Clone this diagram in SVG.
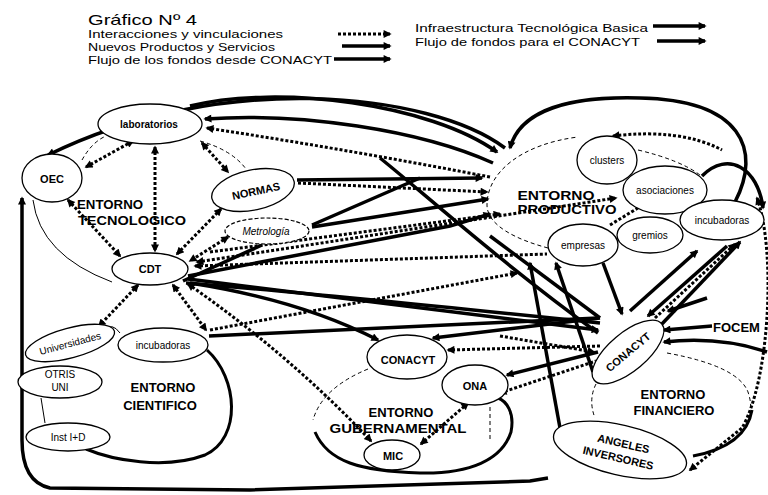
<svg xmlns="http://www.w3.org/2000/svg" width="768" height="495" viewBox="0 0 768 495">
<defs>
<marker id="ah" viewBox="0 0 10 10" refX="8" refY="5" markerWidth="10" markerHeight="8" markerUnits="userSpaceOnUse" orient="auto-start-reverse"><path d="M0,0 L10,5 L0,10 z" fill="#000"/></marker>
<style>
text{font-family:"Liberation Sans",Arial,sans-serif;fill:#000}
.lg{font-size:11px}
.lb{font-size:11px;font-weight:bold;text-anchor:middle}
.ls{font-size:10px;text-anchor:middle}
.en{font-size:13px;font-weight:bold;text-anchor:middle}
.d{fill:none;stroke:#000;stroke-width:3;stroke-dasharray:3 2}
.t{fill:none;stroke:#000;stroke-width:3.5}
.b{fill:none;stroke:#000;stroke-width:1}
.bd{fill:none;stroke:#000;stroke-width:1;stroke-dasharray:4 3}
.bt{fill:none;stroke:#000;stroke-width:3}
.n{fill:#fff;stroke:#000;stroke-width:1.3}
.nd{fill:#fff;stroke:#000;stroke-width:1.2;stroke-dasharray:4 2}
.me{marker-end:url(#ah)}
.ms{marker-start:url(#ah)}
</style>
</defs>
<rect width="768" height="495" fill="#fff"/>

<g id="legend">
<text x="88" y="25" font-size="15" textLength="109" lengthAdjust="spacingAndGlyphs">Gráfico Nº 4</text>
<text class="lg" x="88" y="37.5" textLength="195" lengthAdjust="spacingAndGlyphs">Interacciones y vinculaciones</text>
<text class="lg" x="88" y="50.5" textLength="187" lengthAdjust="spacingAndGlyphs">Nuevos Productos y Servicios</text>
<text class="lg" x="88" y="63.5" textLength="244" lengthAdjust="spacingAndGlyphs">Flujo de los fondos desde CONACYT</text>
<text class="lg" x="415" y="32" textLength="233" lengthAdjust="spacingAndGlyphs">Infraestructura Tecnológica Basica</text>
<text class="lg" x="415" y="45.5" textLength="225" lengthAdjust="spacingAndGlyphs">Flujo de fondos para el CONACYT</text>
<path class="d me" d="M338,34 L390,34"/>
<path class="t me" d="M342,46 L390,46"/>
<path class="t me" d="M334,59 L390,59"/>
<path class="t me" d="M653,26 L705,26"/>
<path class="t me" d="M657,41 L705,41"/>
</g>

<g id="boundaries">
<path class="bd" d="M82,160 Q92,142 106,136"/>
<path class="bd" d="M200,141 Q232,150 246,169"/>
<path class="b" d="M33,200 Q40,255 112,282"/>
<path class="b" d="M105,330 Q112,322 120,333"/>
<path class="bt" d="M207,350 C238,378 242,438 205,455 C165,470 112,460 86,449"/>
<path class="b" d="M41,398 L45,423"/>
<path class="bd" d="M368,369 Q322,388 313,420"/>
<path class="bt" d="M315,432 C328,462 360,471 420,473 C470,474 502,460 511,432 C515,412 506,401 498,398"/>
<path class="bd" d="M490,407 L490,442"/>
<path class="bd" d="M596,384 Q588,400 595,418"/>
<path class="bd" d="M667,353 Q738,366 748,392 Q752,404 750,412"/>
<path class="bt" d="M752,410 Q746,446 693,456"/>
<path class="bd" d="M548,248 C518,240 487,226 487,205 C487,172 522,144 578,137"/>
<path class="bd" d="M638,150 Q680,160 700,175"/>
</g>

<g id="connectors">
<path class="d ms me" d="M86,167 L133,141"/>
<path class="d ms me" d="M68,200 L120,256"/>
<path class="d ms me" d="M155,147 L155,251"/>
<path class="d ms me" d="M202,143 L228,172"/>
<path class="d ms me" d="M221,209 L177,254"/>
<path class="d ms me" d="M228,237 L190,261"/>
<path class="d ms me" d="M138,285 L99,326"/>
<path class="d ms me" d="M173,285 L206,330"/>
<path class="d ms me" d="M188,284 Q290,355 371,441"/>
<path class="d ms me" d="M468,403 L421,444"/>
<path class="d ms me" d="M197,262 L616,198"/>
<path class="d ms" d="M195,266 L547,254"/>
<path class="d me" d="M490,177 Q350,150 207,128"/>
<path class="d me" d="M298,183 L487,192"/>
<path class="d me" d="M210,252 L500,214"/>
<path class="d me" d="M210,330 L517,273"/>
<path class="d me" d="M600,346 L448,350"/>
<path class="d ms" d="M500,393 L596,361"/>
<path class="d me" d="M500,336 L594,352"/>
<path class="d ms me" d="M757,198 C776,250 770,380 742,428 L690,470"/>
<path class="d ms" d="M613,136 Q680,128 722,150"/>
<path class="d me" d="M655,318 L735,244"/>
<path class="d me" d="M610,225 L687,178"/>

<path class="t me" d="M505,148 C430,92 220,70 48,155"/>
<path class="t me" d="M190,106 C280,84 430,104 497,152"/>
<path class="t me" d="M493,163 C420,130 300,112 205,119"/>
<path class="t" d="M380,158 C420,190 500,262 598,333"/>
<path class="t me" d="M297,180 L482,178"/>
<path class="t me" d="M312,227 L488,199"/>
<path class="t" d="M312,225 L420,178"/>
<path class="t me" d="M188,276 L450,226 L490,214"/>
<path class="t me" d="M188,279 L598,330"/>
<path class="t" d="M186,283 Q300,292 600,323"/>
<path class="t" d="M183,281 L262,245"/>
<path class="t" d="M209,336 L598,318"/>
<path class="t me" d="M190,283 Q300,300 378,340"/>
<path class="t me" d="M600,318 L433,338"/>
<path class="t me" d="M598,352 L507,375"/>
<path class="t" d="M490,236 L600,318"/>
<path class="t me" d="M560,428 L530,263"/>
<path class="t me" d="M593,372 L556,263"/>
<path class="t me" d="M603,263 L622,314"/>
<path class="t me" d="M660,326 L740,242"/>
<path class="t ms" d="M648,316 L727,246"/>
<path class="t me" d="M630,311 L697,251"/>
<path class="t me" d="M712,326 L664,330"/>
<path class="t me" d="M707,298 L668,311"/>
<path class="t me" d="M767,352 Q720,336 664,342"/>
<path class="t me" d="M735,202 C762,150 742,100 640,98 C570,96 520,110 510,148"/>
<path class="t me" d="M702,176 C728,150 758,168 763,208"/>
<path class="t me" d="M548,478 L530,481 L250,490 L50,488 Q22,482 22,440 L22,198"/>
</g>

<g id="n-oec"><ellipse class="n" cx="52" cy="178" rx="30" ry="24"/><text class="lb" x="52" y="183">OEC</text></g>
<g id="n-laboratorios"><ellipse class="n" cx="150" cy="124" rx="52" ry="20"/><text class="ls" x="149" y="128" font-weight="bold">laboratorios</text></g>
<g id="n-normas"><ellipse class="n" cx="253" cy="190" rx="42" ry="20" transform="rotate(-12 253 190)"/><text class="lb" x="256" y="195" font-size="12" transform="rotate(-12 256 191)">NORMAS</text></g>
<g id="n-metrologia"><ellipse class="nd" cx="267" cy="231" rx="42" ry="13"/><text class="ls" x="266" y="235" font-style="italic">Metrología</text></g>
<g id="n-cdt"><ellipse class="n" cx="150" cy="269" rx="38" ry="16"/><text class="lb" x="150" y="273" font-size="12">CDT</text></g>
<g id="n-universidades"><ellipse class="n" cx="70" cy="343" rx="46" ry="15" transform="rotate(-15 70 343)"/><text class="ls" x="70" y="347" transform="rotate(-15 70 343)">Universidades</text></g>
<g id="n-incubadoras-c"><ellipse class="n" cx="163" cy="345" rx="45" ry="17"/><text class="ls" x="163" y="349">incubadoras</text></g>
<g id="n-otris"><ellipse class="n" cx="60" cy="382" rx="42" ry="16"/><text class="ls" x="60" y="378" font-size="11">OTRIS</text><text class="ls" x="60" y="391">UNI</text></g>
<g id="n-inst"><ellipse class="n" cx="68" cy="437" rx="42" ry="14"/><text class="ls" x="68" y="441">Inst I+D</text></g>
<g id="n-conacyt-g"><ellipse class="n" cx="407" cy="357" rx="40" ry="22"/><text class="lb" x="408" y="364">CONACYT</text></g>
<g id="n-ona"><ellipse class="n" cx="475" cy="385" rx="33" ry="20"/><text class="lb" x="475" y="390">ONA</text></g>
<g id="n-mic"><ellipse class="n" cx="392" cy="455" rx="28" ry="15"/><text class="lb" x="393" y="460">MIC</text></g>
<g id="n-clusters"><ellipse class="n" cx="607" cy="160" rx="30" ry="24"/><text class="ls" x="607" y="164">clusters</text></g>
<g id="n-asociaciones"><ellipse class="n" cx="665" cy="190" rx="42" ry="24"/><text class="ls" x="665" y="194">asociaciones</text></g>
<g id="n-incubadoras-p"><ellipse class="n" cx="722" cy="220" rx="42" ry="20"/><text class="ls" x="722" y="224">incubadoras</text></g>
<g id="n-gremios"><ellipse class="n" cx="650" cy="235" rx="33" ry="18"/><text class="ls" x="650" y="239">gremios</text></g>
<g id="n-empresas"><ellipse class="n" cx="583" cy="245" rx="35" ry="21"/><text class="ls" x="583" y="249">empresas</text></g>
<g id="n-conacyt-f"><ellipse class="n" cx="628" cy="352" rx="44" ry="19" transform="rotate(-40 628 352)"/><text class="lb" x="628" y="356" transform="rotate(-40 628 352)">CONACYT</text></g>
<g id="n-angeles"><ellipse class="n" cx="620" cy="450" rx="68" ry="25" transform="rotate(13 620 450)"/><text class="lb" x="622" y="447" font-size="12" transform="rotate(13 620 450)">ANGELES</text><text class="lb" x="620" y="462" font-size="12" transform="rotate(13 620 450)">INVERSORES</text></g>

<g id="labels">
<text class="en" x="110" y="209" font-size="12" textLength="66" lengthAdjust="spacingAndGlyphs">ENTORNO</text>
<text class="en" x="132" y="225" font-size="12" textLength="108" lengthAdjust="spacingAndGlyphs">TECNOLOGICO</text>
<text class="en" x="163" y="392">ENTORNO</text>
<text class="en" x="160" y="410">CIENTIFICO</text>
<text class="en" x="401" y="417">ENTORNO</text>
<text class="en" x="398" y="433" textLength="137" lengthAdjust="spacingAndGlyphs">GUBERNAMENTAL</text>
<text class="en" x="556" y="200" textLength="77" lengthAdjust="spacingAndGlyphs">ENTORNO</text>
<text class="en" x="567" y="214" textLength="99" lengthAdjust="spacingAndGlyphs">PRODUCTIVO</text>
<text class="en" x="673" y="399">ENTORNO</text>
<text class="en" x="674" y="415">FINANCIERO</text>
<text x="713" y="332" font-size="13" font-weight="bold">FOCEM</text>
</g>
</svg>
